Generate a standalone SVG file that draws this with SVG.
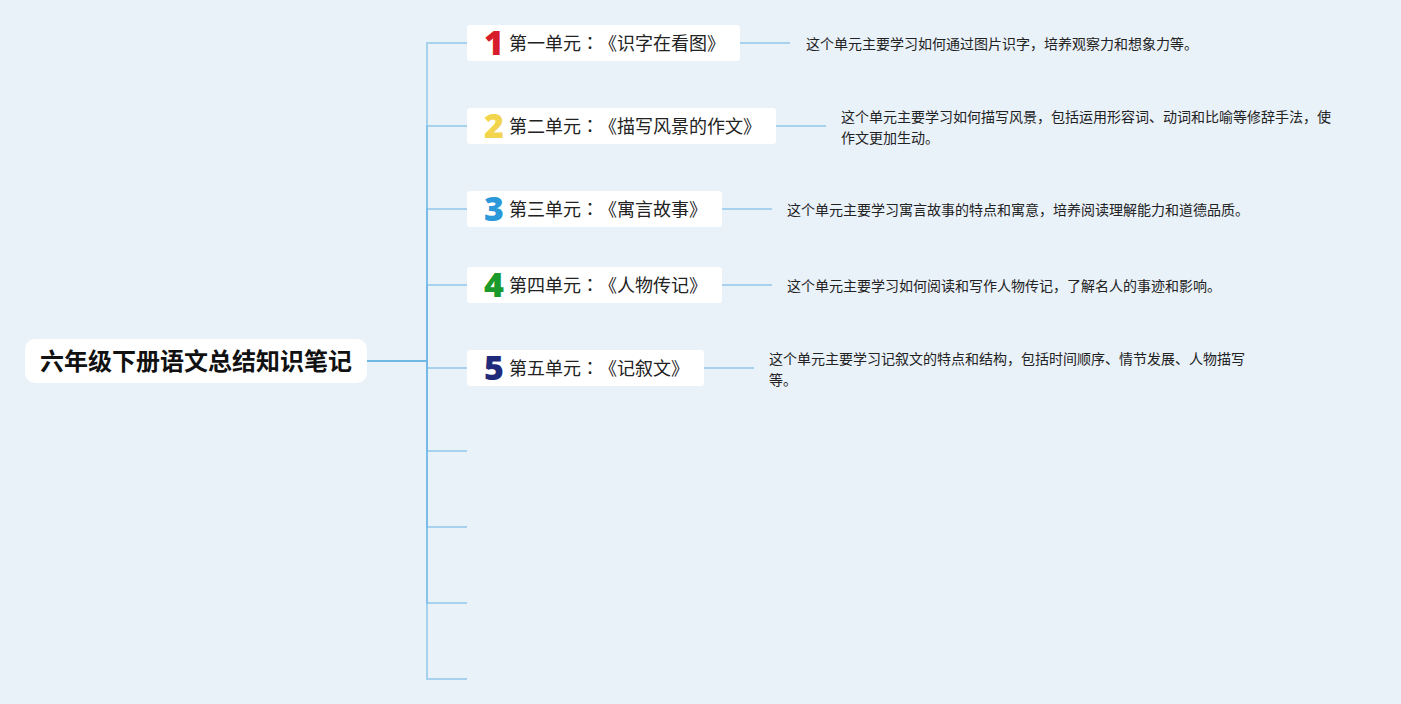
<svg xmlns="http://www.w3.org/2000/svg" width="1401" height="704" viewBox="0 0 1401 704">
<style>
.bg{fill:#e9f1f9}
.box{fill:#ffffff}
.br{fill:none;stroke:#6fb8e3;stroke-opacity:0.55;stroke-width:2}
text,tspan{text-spacing-trim:space-all}
.root{font-family:"Noto Sans CJK SC","Noto Sans",sans-serif;font-size:24px;font-weight:700;fill:#111}
.title{font-family:"Noto Sans CJK SC","Noto Sans",sans-serif;font-size:18px;fill:#222}
.c{font-family:"Noto Sans CJK JP","Noto Sans CJK SC",sans-serif}
.num{font-family:"Noto Sans","DejaVu Sans",sans-serif;font-size:34px;font-weight:900;text-anchor:middle}
.desc{font-family:"Noto Sans CJK SC","Noto Sans",sans-serif;font-size:14px;fill:#222}
</style>
<rect class="bg" x="0" y="0" width="1401" height="704"/>
<g id="connectors">
<path class="br" d="M367 361H427V43H467"/>
<path class="br" d="M367 361H427V126H467"/>
<path class="br" d="M367 361H427V209H467"/>
<path class="br" d="M367 361H427V285H467"/>
<path class="br" d="M367 361H427V368H467"/>
<path class="br" d="M367 361H427V451H467"/>
<path class="br" d="M367 361H427V527H467"/>
<path class="br" d="M367 361H427V603H467"/>
<path class="br" d="M367 361H427V679H467"/>
<path class="br" d="M740 43H790"/>
<path class="br" d="M776 126H826"/>
<path class="br" d="M722 209H772"/>
<path class="br" d="M722 285H772"/>
<path class="br" d="M704 368H754"/>
</g>
<g id="root">
<rect class="box" x="25" y="339" width="342" height="44" rx="10"/>
<text class="root" x="196" y="370" text-anchor="middle">六年级下册语文总结知识笔记</text>
</g>
<g id="unit1">
<rect class="box" x="467" y="25" width="273" height="36" rx="3"/>
<text class="num" x="494" y="55" fill="#d71c2c">1</text>
<text class="title" x="509" y="50">第一单元<tspan class="c" x="581">：</tspan><tspan x="599">《识字在看图》</tspan></text>
</g>
<g id="desc1">
<text class="desc" x="806" y="49">这个单元主要学习如何通过图片识字，培养观察力和想象力等。</text>
</g>
<g id="unit2">
<rect class="box" x="467" y="108" width="309" height="36" rx="3"/>
<text class="num" x="494" y="138" fill="#f2d54c">2</text>
<text class="title" x="509" y="133">第二单元<tspan class="c" x="581">：</tspan><tspan x="599">《描写风景的作文》</tspan></text>
</g>
<g id="desc2">
<text class="desc" x="841" y="122">这个单元主要学习如何描写风景，包括运用形容词、动词和比喻等修辞手法，使</text>
<text class="desc" x="841" y="143">作文更加生动。</text>
</g>
<g id="unit3">
<rect class="box" x="467" y="191" width="255" height="36" rx="3"/>
<text class="num" x="494" y="221" fill="#2b98d9">3</text>
<text class="title" x="509" y="216">第三单元<tspan class="c" x="581">：</tspan><tspan x="599">《寓言故事》</tspan></text>
</g>
<g id="desc3">
<text class="desc" x="787" y="215">这个单元主要学习寓言故事的特点和寓意，培养阅读理解能力和道德品质。</text>
</g>
<g id="unit4">
<rect class="box" x="467" y="267" width="255" height="36" rx="3"/>
<text class="num" x="494" y="297" fill="#1b9a2c">4</text>
<text class="title" x="509" y="292">第四单元<tspan class="c" x="581">：</tspan><tspan x="599">《人物传记》</tspan></text>
</g>
<g id="desc4">
<text class="desc" x="787" y="291">这个单元主要学习如何阅读和写作人物传记，了解名人的事迹和影响。</text>
</g>
<g id="unit5">
<rect class="box" x="467" y="350" width="237" height="36" rx="3"/>
<text class="num" x="494" y="380" fill="#1f2a7a">5</text>
<text class="title" x="509" y="375">第五单元<tspan class="c" x="581">：</tspan><tspan x="599">《记叙文》</tspan></text>
</g>
<g id="desc5">
<text class="desc" x="769" y="364">这个单元主要学习记叙文的特点和结构，包括时间顺序、情节发展、人物描写</text>
<text class="desc" x="769" y="385">等。</text>
</g>
</svg>
